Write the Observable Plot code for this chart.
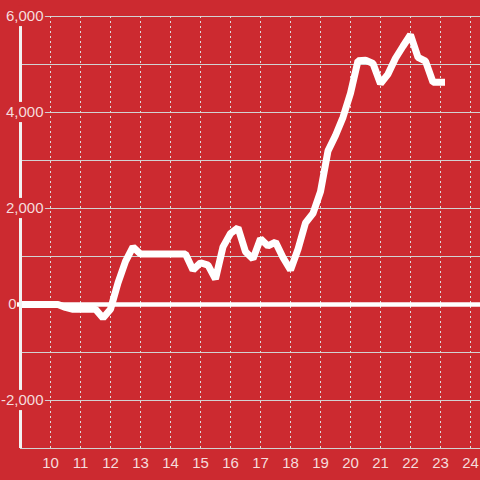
<!DOCTYPE html>
<html>
<head>
<meta charset="utf-8">
<script src="https://cdn.jsdelivr.net/npm/d3@7"></script>
<script src="https://cdn.jsdelivr.net/npm/@observablehq/plot@0.6"></script>
<style>
  html, body { margin: 0; padding: 0; background: #cc2a30; }
</style>
</head>
<body>
<div id="chart"></div>
<script>
// Data (hour of day, value)
const hours = [9.0, 10.25, 10.5, 10.75, 11.5, 11.75, 12.0, 12.25, 12.5, 12.75, 13.0, 14.5, 14.75, 15.0, 15.25, 15.5, 15.75, 16.0, 16.25, 16.5, 16.75, 17.0, 17.25, 17.5, 17.75, 18.0, 18.25, 18.5, 18.75, 19.0, 19.25, 19.5, 19.75, 20.0, 20.25, 20.5, 20.75, 21.0, 21.25, 21.5, 21.75, 22.0, 22.25, 22.5, 22.75, 23.15];
const values = [0, 0, -60, -100, -100, -280, -100, 450, 900, 1200, 1050, 1050, 720, 870, 820, 530, 1200, 1480, 1600, 1100, 950, 1370, 1220, 1300, 980, 720, 1150, 1700, 1900, 2350, 3200, 3520, 3900, 4400, 5080, 5090, 5020, 4600, 4800, 5130, 5380, 5620, 5150, 5070, 4630, 4630];
const xTicks = [10, 11, 12, 13, 14, 15, 16, 17, 18, 19, 20, 21, 22, 23, 24];
const yGrid = [-3000, -2000, -1000, 0, 1000, 2000, 3000, 4000, 5000, 6000];
const yLabels = [-2000, 2000, 4000, 6000];
const zeroLabel = [0];

const data = hours.map((h, i) => ({h, v: values[i]}));

const bg = "#cc2a30";
const txt = "#f5dcdd";
const fmt = d => d.toLocaleString("en-US");

const chart = Plot.plot({
  width: 480,
  height: 480,
  marginLeft: 20,
  marginRight: 0,
  marginTop: 16,
  marginBottom: 32,
  x: {domain: [9, 24 + 1/3], axis: null},
  y: {domain: [-3000, 6000], axis: null},
  style: {background: bg, fontFamily: "'Liberation Sans', Arial, sans-serif", fontSize: "15px"},
  marks: [
    Plot.ruleY(yGrid, {stroke: "#d2d2d2", strokeWidth: 1.2}),
    Plot.ruleX(xTicks, {stroke: "#dcdcdc", strokeWidth: 1, strokeDasharray: "2,3"}),
    Plot.ruleY([0], {stroke: "#ffffff", strokeWidth: 4.5, x1: 8.9, x2: 24.4}),
    Plot.line(data, {x: "h", y: "v", stroke: "#ffffff", strokeWidth: 7, strokeLinejoin: "miter", strokeLinecap: "butt"}),
    Plot.ruleX([9], {stroke: "#f2f2f2", strokeWidth: 3}),
    // label background boxes interrupting the axis line
    Plot.ruleX(yLabels, {x: 9, y1: d => d - 210, y2: d => d + 210, stroke: bg, strokeWidth: 5}),
    Plot.text(yLabels, {
      x: 9, y: d => d, text: fmt, dx: 23, textAnchor: "end",
      fill: txt, stroke: bg, strokeWidth: 4, paintOrder: "stroke", fontSize: 15
    }),
    Plot.text(zeroLabel, {
      x: 9, y: d => d, text: fmt, dx: -4, textAnchor: "end",
      fill: txt, fontSize: 15
    }),
    Plot.text(xTicks, {
      x: d => d, y: -3000, text: d => String(d), dy: 15,
      fill: txt, fontSize: 15
    })
  ]
});
document.getElementById("chart").appendChild(chart);
</script>
</body>
</html>
